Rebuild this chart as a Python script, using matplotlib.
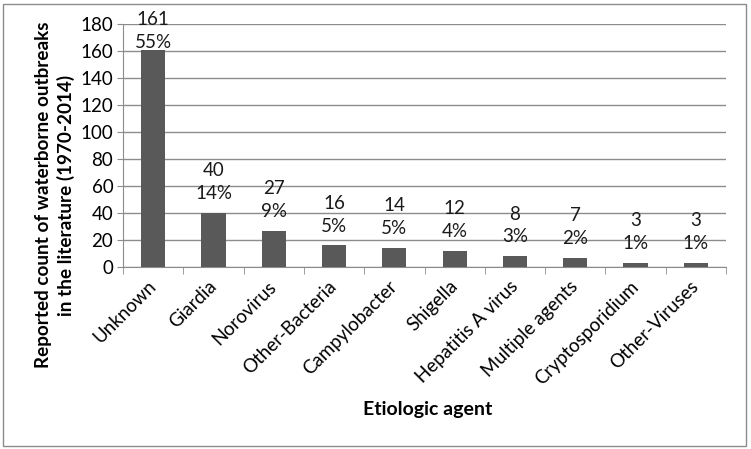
import matplotlib
matplotlib.use("Agg")
import numpy as np
from matplotlib import pyplot as plt
from matplotlib.patches import Rectangle
from matplotlib.transforms import ScaledTranslation

plt.rcParams['font.family'] = ['Lato', 'DejaVu Sans']

# data
agents = ["Unknown", "Giardia", "Norovirus", "Other-Bacteria", "Campylobacter",
          "Shigella", "Hepatitis A virus", "Multiple agents", "Cryptosporidium",
          "Other-Viruses"]
counts = [161, 40, 27, 16, 14, 12, 8, 7, 3, 3]
shares = ["55%", "14%", "9%", "5%", "5%", "4%", "3%", "2%", "1%", "1%"]

W, H = 751, 449
fig = plt.figure(figsize=(W / 100, H / 100), dpi=100)
ax = fig.add_axes([123 / W, 1 - 267 / H, (726 - 123) / W, (267 - 24) / H])

x = np.arange(len(agents))
ax.bar(x, counts, width=0.4, color="#595959", zorder=3)

# two-line data labels above each bar
for xi, v, s in zip(x, counts, shares):
    ty = min(v + 8, 160)
    ax.text(xi, ty, f"{v}\n{s}", ha="center", va="bottom", fontsize=13.5,
            linespacing=1.42, color="#1a1a1a", zorder=4)

ax.set_xlim(-0.5, len(agents) - 0.5)
ax.set_ylim(0, 180)
ax.set_yticks(np.arange(0, 181, 20))
ax.yaxis.grid(True, color="#8c8c8c", linewidth=1.0, zorder=0)
ax.tick_params(axis="y", labelsize=13.5, length=4, color="#8c8c8c", pad=3)

ax.set_xticks(x)
ax.set_xticklabels(agents, rotation=45, ha="right", va="center",
                   rotation_mode="anchor", fontsize=13.5)
shift = ScaledTranslation(7 / 100, 0, fig.dpi_scale_trans)
for lbl in ax.get_xticklabels():
    lbl.set_transform(lbl.get_transform() + shift)
ax.tick_params(axis="x", which="major", length=0, pad=12)
ax.set_xticks(np.arange(-0.5, len(agents)), minor=True)
ax.tick_params(axis="x", which="minor", length=5, color="#8c8c8c")

for side in ["top", "right"]:
    ax.spines[side].set_visible(False)
for side in ["left", "bottom"]:
    ax.spines[side].set_color("#8c8c8c")

fig.text(55 / W, 1 - 195 / H,
         "Reported count of waterborne outbreaks\nin the literature (1970-2014)",
         rotation=90, ha="center", va="center", fontsize=13.6, fontweight="bold",
         linespacing=1.35)
fig.text(428 / W, 1 - 410 / H, "Etiologic agent", ha="center", va="center",
         fontsize=14, fontweight="bold")

# outer chart frame
fig.patches.append(Rectangle((3 / W, 3 / H), 743 / W, 442 / H, transform=fig.transFigure,
                             fill=False, edgecolor="#8c8c8c", linewidth=1.0))

fig.savefig("out.png", dpi=100)
